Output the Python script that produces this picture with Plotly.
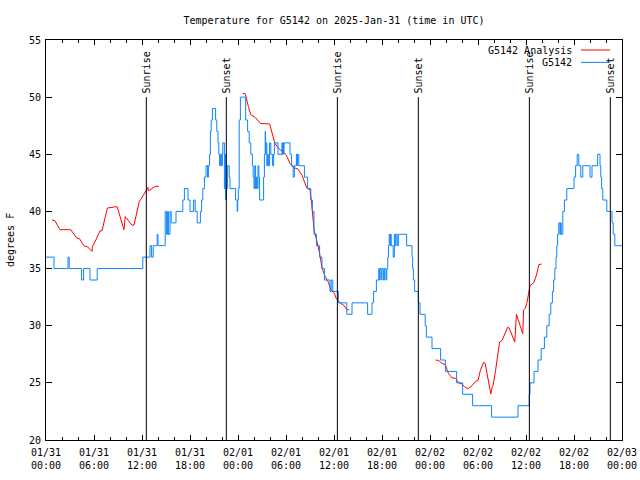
import plotly.graph_objects as go
import pandas as pd

# ---------------- data (hours after 2025-01-31 00:00 UTC, degrees F) ----------------
# G5142 observations: (hour, value) change points, drawn as steps
blue_obs = [
    (0, 36), (1.0, 35), (2.75, 36), (2.9, 35), (4.45, 34), (4.7, 35), (5.5, 34), (6.4, 35),
    (12.1, 36), (13.0, 37), (13.2, 36), (13.4, 37), (13.9, 38), (14.0, 37), (14.9, 40), (15.05, 38),
    (15.2, 40), (15.3, 38), (15.5, 40), (15.65, 39), (16.25, 40), (17.1, 41), (17.3, 42), (17.75, 41),
    (18.0, 40), (18.45, 41), (18.65, 40), (18.9, 39), (19.3, 40), (19.45, 41), (19.6, 42), (19.8, 43),
    (20.0, 44), (20.2, 43), (20.3, 44), (20.45, 45), (20.55, 47), (20.65, 48), (20.8, 49),
    (21.2, 48), (21.35, 47), (21.5, 46), (21.6, 45), (21.7, 44), (21.8, 45), (21.95, 44), (22.04, 45),
    (22.1, 46), (22.3, 42), (22.4, 45), (22.46, 41), (22.54, 42), (22.7, 44), (22.9, 43), (23.0, 42),
    (23.7, 41), (23.9, 40), (23.96, 41), (24.04, 42), (24.15, 48), (24.3, 50),
    (24.96, 48), (25.2, 47), (25.4, 46), (25.6, 45), (25.8, 44), (25.9, 43), (26.0, 42), (26.1, 44),
    (26.2, 42), (26.3, 43), (26.4, 42), (26.5, 44), (26.6, 43), (26.7, 41), (27.2, 43), (27.3, 45),
    (27.4, 47), (27.45, 45), (27.5, 46), (27.6, 44), (27.7, 45), (27.8, 44), (27.95, 46), (28.1, 45),
    (28.3, 44), (28.45, 45), (28.55, 46), (29.0, 45), (29.5, 46), (29.55, 45), (29.6, 46), (29.7, 45),
    (29.75, 46), (30.5, 45), (30.7, 44), (30.9, 43), (31.05, 44), (31.3, 45), (31.4, 44), (31.45, 45),
    (31.6, 44), (32.3, 43), (32.7, 42), (33.1, 41), (33.3, 40), (33.5, 38), (33.8, 37), (34.2, 36),
    (34.5, 35), (34.8, 34), (35.5, 33), (35.65, 34), (35.85, 33), (36.55, 32), (37.6, 31), (38.25, 32),
    (40.2, 31), (40.75, 32), (40.95, 33), (41.3, 34), (41.6, 35), (41.67, 34), (41.75, 35), (41.9, 34),
    (42.0, 35), (42.17, 34), (42.33, 35), (42.5, 34), (42.6, 35), (42.72, 36), (42.8, 37), (42.9, 38),
    (43.0, 37), (43.08, 38), (43.15, 37), (43.4, 36), (43.55, 38), (43.65, 37), (43.75, 38), (43.9, 37),
    (44.05, 38), (45.08, 37), (45.75, 36), (45.83, 35), (45.92, 34), (46.08, 33), (46.55, 32), (46.75, 31),
    (47.4, 30), (47.55, 29), (48.25, 28), (49.33, 27), (49.92, 26), (51.33, 25), (52.08, 24), (53.33, 23),
    (55.7, 22), (59.0, 23), (60.4, 24), (60.5, 25), (61.0, 26), (61.5, 27), (61.9, 28), (62.3, 29),
    (62.6, 30), (62.9, 31), (63.1, 32), (63.3, 33), (63.45, 34), (63.6, 35), (63.75, 36), (63.85, 37),
    (63.95, 38), (64.1, 39), (64.25, 38), (64.3, 39), (64.4, 38), (64.6, 40), (64.8, 41), (65.1, 42),
    (66.0, 43), (66.2, 44), (66.4, 45), (66.6, 44), (66.85, 43), (67.1, 44), (68.0, 43), (68.25, 44),
    (68.96, 45), (69.25, 44), (69.35, 43), (69.45, 42), (69.6, 41), (70.1, 40), (70.75, 39), (70.9, 38),
    (71.1, 37), (72.0, 37),
]

# G5142 Analysis: three separate segments of (hour, value)
red_seg1 = [
    (0.75, 39.25), (1.1, 39.2), (1.75, 38.4), (3.1, 38.4), (3.8, 37.7), (4.2, 37.6), (4.75, 37.0),
    (5.2, 36.9), (5.75, 36.5), (5.8, 36.9), (6.3, 37.6), (6.75, 38.3), (7.0, 38.3), (7.3, 39.25),
    (7.67, 40.3), (8.25, 40.35), (8.5, 40.4), (8.9, 40.4), (9.25, 39.55), (9.6, 38.85), (9.75, 38.4),
    (9.9, 39.55), (10.25, 39.25), (10.75, 38.8), (11.0, 38.8), (11.3, 39.8), (11.67, 40.9), (11.9, 41.1),
    (12.5, 41.8), (12.75, 42.1), (12.8, 41.8), (13.25, 42.0), (13.67, 42.2), (14.1, 42.2),
]
red_seg2 = [
    (24.6, 50.33), (24.9, 50.3), (25.3, 49.17), (25.6, 48.47), (26.2, 48.2), (26.8, 47.7), (27.96, 47.65),
    (28.3, 46.84), (28.6, 45.96), (29.1, 45.5), (29.5, 45.26), (30.0, 44.97), (30.5, 44.2), (30.9, 43.86),
    (31.5, 43.7), (32.0, 43.16), (32.6, 42.05), (33.0, 41.9), (33.2, 40.7), (33.5, 38.4), (33.9, 37.3),
    (34.2, 36.33), (34.5, 35.05), (34.9, 34.3), (35.3, 33.8), (35.6, 33.1), (36.0, 32.9), (36.3, 32.37),
    (36.75, 32.0), (37.2, 31.8), (37.6, 31.4), (37.9, 31.4),
]
red_seg3 = [
    (48.7, 27.0), (49.1, 26.95), (49.5, 26.7), (49.9, 26.6), (50.3, 25.83), (50.75, 25.43), (51.2, 25.4),
    (51.6, 25.0), (52.0, 24.9), (52.4, 24.6), (52.8, 24.5), (53.25, 24.75), (53.7, 25.14), (54.0, 25.2),
    (54.3, 26.1), (54.7, 26.8), (54.9, 26.7), (55.3, 25.25), (55.5, 24.7), (55.6, 24.03), (55.8, 24.7),
    (55.9, 24.8), (56.2, 26.1), (56.5, 27.6), (56.7, 28.57), (57.0, 28.7), (57.4, 29.3), (57.7, 29.86),
    (57.9, 29.8), (58.3, 29.0), (58.6, 28.57), (58.8, 31.0), (59.0, 30.6), (59.4, 29.86), (59.6, 29.3),
    (59.7, 31.37), (59.9, 31.5), (60.1, 31.96), (60.4, 33.2), (60.5, 33.5), (60.96, 33.76), (61.3, 34.4),
    (61.6, 35.34), (61.96, 35.4),
]

sunrise_hours = [12.54, 36.42, 60.42]
sunset_hours = [22.54, 46.54, 70.54]
sun_line_top = 50

title_text = "Temperature for G5142 on 2025-Jan-31 (time in UTC)"
ylabel_text = "degrees F"
name_analysis = "G5142 Analysis"
name_obs = "G5142"

# ---------------- build ----------------
base = pd.Timestamp("2025-01-31 00:00")


def t(h):
    return base + pd.Timedelta(hours=h)


FONT = "DejaVu Sans Mono"
BLUE = "#0a84ff"
RED = "#ff0000"

red_x, red_y = [], []
for seg in (red_seg1, red_seg2, red_seg3):
    for h, v in seg:
        red_x.append(t(h))
        red_y.append(v)
    red_x.append(None)
    red_y.append(None)

blue_x = [t(h) for h, _ in blue_obs]
blue_y = [v for _, v in blue_obs]

fig = go.Figure()
fig.add_trace(go.Scatter(x=red_x, y=red_y, mode="lines", name=name_analysis,
                         line=dict(color=RED, width=1), connectgaps=False))
fig.add_trace(go.Scatter(x=blue_x, y=blue_y, mode="lines", name=name_obs,
                         line=dict(color=BLUE, width=1, shape="hv")))

for label, hours in (("Sunrise", sunrise_hours), ("Sunset", sunset_hours)):
    for h in hours:
        fig.add_shape(type="line", xref="x", yref="y", x0=t(h), x1=t(h), y0=20, y1=sun_line_top,
                      line=dict(color="black", width=1))
        fig.add_annotation(x=t(h), y=sun_line_top, xref="x", yref="y", text=label,
                           textangle=-90, showarrow=False, xanchor="center", yanchor="bottom",
                           yshift=2, font=dict(family=FONT, size=10, color="black"))

# manual gnuplot-style key (text right, sample line)
for i, (nm, col) in enumerate(((name_analysis, RED), (name_obs, BLUE))):
    yp = 0.975 - i * 0.031
    fig.add_annotation(x=0.9167, y=yp, xref="paper", yref="paper", text=nm, showarrow=False,
                       xanchor="right", yanchor="middle", font=dict(family=FONT, size=10, color="black"))
    fig.add_shape(type="line", xref="paper", yref="paper", x0=0.9288, x1=0.9792, y0=yp, y1=yp,
                  line=dict(color=col, width=1))

fig.add_annotation(x=-0.0625, y=0.5, xref="paper", yref="paper", text=ylabel_text, textangle=-90,
                   showarrow=False, xanchor="center", yanchor="middle",
                   font=dict(family=FONT, size=10, color="black"))

axis_common = dict(showline=True, linecolor="black", linewidth=1, mirror="ticks", ticks="inside",
                   tickcolor="black", showgrid=False, zeroline=False, automargin=False,
                   tickfont=dict(family=FONT, size=10, color="black"))

fig.update_layout(
    width=640, height=480,
    margin=dict(l=46, r=18, t=40, b=40),
    paper_bgcolor="white", plot_bgcolor="white",
    showlegend=False, hovermode=False,
    font=dict(family=FONT, size=10, color="black"),
    title=dict(text=title_text, x=0.5, xref="paper", xanchor="center",
               y=1 - 20 / 480, yref="container", yanchor="middle", automargin=False,
               font=dict(family=FONT, size=10, color="black")),
    xaxis=dict(type="date", range=[t(0), t(72)], tick0=t(0), dtick=6 * 3600000,
               tickformat="%m/%d<br>%H:%M", ticklen=5, ticklabelstandoff=3,
               minor=dict(dtick=2 * 3600000, ticklen=3, ticks="inside", tickcolor="black"),
               **axis_common),
    yaxis=dict(range=[20, 55], dtick=5, ticklen=6, ticklabelstandoff=2, **axis_common),
)

fig.write_html("out.html", config={"displayModeBar": False, "staticPlot": True},
               post_script="document.body.style.margin='0';document.body.style.overflow='hidden';")
